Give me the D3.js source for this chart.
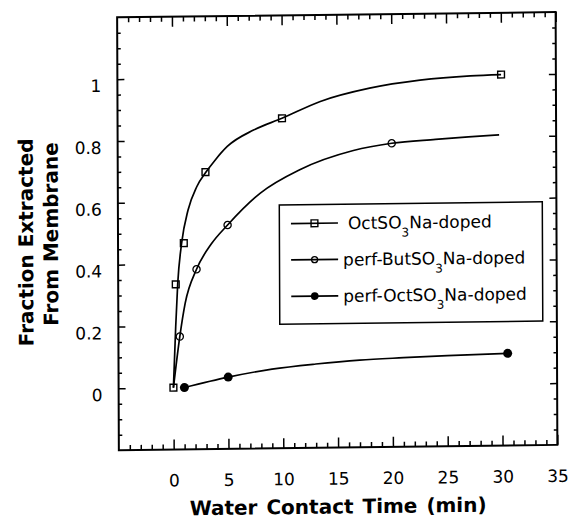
<!DOCTYPE html>
<html>
<head>
<meta charset="utf-8">
<script src="https://cdn.jsdelivr.net/npm/d3@7"></script>
<style>
    html, body { margin: 0; padding: 0; background: #fff; }
    #viz { width: 573px; height: 520px; }
    svg { display: block; font-family: "DejaVu Sans", sans-serif; }
</style>
</head>
<body>
<div id="viz"></div>
<script>
// measured points (markers)
const octTime = [0, 0.25, 1, 3, 10, 30];
const octFrac = [0, 0.334, 0.467, 0.696, 0.867, 1.0];
const butTime = [0.6, 2.15, 5, 20];
const butFrac = [0.165, 0.382, 0.524, 0.782];
const perfOctTime = [1, 5, 30.5];
const perfOctFrac = [0, 0.032, 0.098];

// fitted curves
const octFitTime = [0, 0.23, 0.43, 0.8, 1.4, 2.2, 3.05, 3.9, 5, 7.4, 10, 13.5, 18, 22.6, 27.2, 30];
const octFitFrac = [0, 0.197, 0.337, 0.467, 0.574, 0.649, 0.696, 0.735, 0.778, 0.83, 0.867, 0.92, 0.961, 0.985, 0.997, 1.0];
const butFitTime = [0, 0.6, 1.1, 2.15, 3.5, 5, 8, 11.6, 16.5, 20, 24, 27, 29.8];
const butFitFrac = [0, 0.165, 0.272, 0.382, 0.463, 0.524, 0.626, 0.70, 0.76, 0.782, 0.793, 0.80, 0.805];
const perfOctFitTime = [1, 5, 9, 13, 17, 21, 25, 30.5];
const perfOctFitFrac = [0, 0.032, 0.056, 0.071, 0.082, 0.088, 0.093, 0.098];

// axes
const xTicks = [0, 5, 10, 15, 20, 25, 30, 35];
const yTicks = [0, 0.2, 0.4, 0.6, 0.8, 1];
const yTickLabels = ["0", "0.2", "0.4", "0.6", "0.8", "1"];

// legend
const seriesNames = [
    ["OctSO", "3", "Na-doped"],
    ["perf-ButSO", "3", "Na-doped"],
    ["perf-OctSO", "3", "Na-doped"]
];
const seriesShapes = ["square", "circle", "dot"];

const zip = (xs, ys) => xs.map((x, i) => ({ x, y: ys[i] }));

function renderChart(d3) {
    const mount = document.getElementById("viz");
    d3.select(mount).select("svg").remove();

    const width = 573, height = 520;
    const left = 118, right = 556.5, top = 14.7, bottom = 447.5;

    const x = d3.scaleLinear().domain([-5, 35]).range([left, right]);
    const y = d3.scaleLinear().domain([-0.2, 1.2]).range([bottom, top]);

    const svg = d3.create("svg")
        .attr("width", width)
        .attr("height", height)
        .attr("viewBox", `0 0 ${width} ${height}`);

    // the scanned figure is slightly tilted, reproduce that
    const g = svg.append("g")
        .attr("transform", "matrix(1,-0.012,0.004,1,-0.928,4.056)");

    // minor tick values
    const xMinor = d3.range(-4, 35).filter(v => v % 5 !== 0);
    const yMinor = d3.range(-0.15, 1.2, 0.05)
        .map(v => +v.toFixed(2))
        .filter(v => Math.round(v * 100) % 20 !== 0);

    const tidy = sel => {
        sel.select(".domain").remove();
        sel.selectAll("line").attr("stroke", "#000").attr("stroke-width", 1.5);
    };

    // bottom axis with labels
    g.append("g")
        .attr("transform", `translate(0,${bottom})`)
        .call(d3.axisBottom(x).tickValues(xTicks).tickSizeInner(-10).tickSizeOuter(0)
            .tickPadding(25).tickFormat(d3.format("d")))
        .call(tidy)
        .call(s => s.selectAll("text").attr("font-size", 17).attr("fill", "#000")
            .attr("font-family", "DejaVu Sans, sans-serif"));
    g.append("g")
        .attr("transform", `translate(0,${bottom})`)
        .call(d3.axisBottom(x).tickValues(xMinor).tickSizeInner(-5).tickSizeOuter(0).tickFormat(""))
        .call(tidy);

    // top axis (ticks only)
    g.append("g")
        .attr("transform", `translate(0,${top})`)
        .call(d3.axisTop(x).tickValues(xTicks).tickSizeInner(-10).tickSizeOuter(0).tickFormat(""))
        .call(tidy);
    g.append("g")
        .attr("transform", `translate(0,${top})`)
        .call(d3.axisTop(x).tickValues(xMinor).tickSizeInner(-5).tickSizeOuter(0).tickFormat(""))
        .call(tidy);

    // left axis with labels
    g.append("g")
        .attr("transform", `translate(${left},0)`)
        .call(d3.axisLeft(y).tickValues(yTicks).tickSizeInner(-7).tickSizeOuter(0)
            .tickPadding(16).tickFormat((d, i) => yTickLabels[i]))
        .call(tidy)
        .call(s => s.selectAll("text").attr("font-size", 17).attr("fill", "#000")
            .attr("dy", "0.71em").attr("font-family", "DejaVu Sans, sans-serif"));
    g.append("g")
        .attr("transform", `translate(${left},0)`)
        .call(d3.axisLeft(y).tickValues(yMinor).tickSizeInner(-3.5).tickSizeOuter(0).tickFormat(""))
        .call(tidy);

    // right axis (ticks only)
    g.append("g")
        .attr("transform", `translate(${right},0)`)
        .call(d3.axisRight(y).tickValues(yTicks).tickSizeInner(-7).tickSizeOuter(0).tickFormat(""))
        .call(tidy);
    g.append("g")
        .attr("transform", `translate(${right},0)`)
        .call(d3.axisRight(y).tickValues(yMinor).tickSizeInner(-3.5).tickSizeOuter(0).tickFormat(""))
        .call(tidy);

    // frame
    g.append("rect")
        .attr("x", left).attr("y", top)
        .attr("width", right - left).attr("height", bottom - top)
        .attr("fill", "none").attr("stroke", "#000").attr("stroke-width", 2);

    // fitted curves
    const line = d3.line()
        .x(d => x(d.x))
        .y(d => y(d.y))
        .curve(d3.curveMonotoneX);

    const fits = [
        zip(octFitTime, octFitFrac),
        zip(butFitTime, butFitFrac),
        zip(perfOctFitTime, perfOctFitFrac)
    ];
    g.append("g")
        .selectAll("path")
        .data(fits)
        .join("path")
        .attr("d", line)
        .attr("fill", "none")
        .attr("stroke", "#000")
        .attr("stroke-width", 1.7);

    // markers
    function drawMarker(sel, shape) {
        if (shape === "square") {
            sel.append("rect")
                .attr("x", -3.4).attr("y", -3.4)
                .attr("width", 6.8).attr("height", 6.8)
                .attr("fill", "none").attr("stroke", "#000").attr("stroke-width", 1.4);
        } else if (shape === "circle") {
            sel.append("circle")
                .attr("r", 3.6)
                .attr("fill", "none").attr("stroke", "#000").attr("stroke-width", 1.3);
        } else {
            sel.append("circle")
                .attr("r", 4.5)
                .attr("fill", "#000");
        }
    }

    const points = [
        zip(octTime, octFrac),
        zip(butTime, butFrac),
        zip(perfOctTime, perfOctFrac)
    ];
    points.forEach((pts, i) => {
        g.append("g")
            .selectAll("g")
            .data(pts)
            .join("g")
            .attr("transform", d => `translate(${x(d.x)},${y(d.y)})`)
            .each(function () { drawMarker(d3.select(this), seriesShapes[i]); });
    });

    // legend
    const legend = g.append("g");
    legend.append("rect")
        .attr("x", 279.4).attr("y", 204.3)
        .attr("width", 263).attr("height", 119.2)
        .attr("fill", "#fff").attr("stroke", "#000").attr("stroke-width", 1.5);

    const rows = legend.selectAll("g.row")
        .data(seriesNames)
        .join("g")
        .attr("class", "row")
        .attr("transform", (d, i) => `translate(0,${223 + i * 36.4})`);

    rows.append("line")
        .attr("x1", 291).attr("x2", 338)
        .attr("stroke", "#000").attr("stroke-width", 1.7);
    rows.append("g")
        .attr("transform", "translate(314.5,0)")
        .each(function (d, i) {
            drawMarker(d3.select(this), seriesShapes[i]);
            if (seriesShapes[i] !== "square") {
                d3.select(this).select("circle").attr("r", seriesShapes[i] === "dot" ? 3.8 : 3);
            }
        });

    const label = rows.append("text")
        .attr("x", (d, i) => i === 0 ? 348 : 343)
        .attr("y", 6.2)
        .attr("font-size", 17)
        .attr("fill", "#000");
    label.append("tspan").text(d => d[0]);
    label.append("tspan").attr("dy", 8).attr("font-size", 12).text(d => d[1]);
    label.append("tspan").attr("dy", -8).text(d => d[2]);

    // axis titles
    g.append("text")
        .attr("x", 337).attr("y", 513.5)
        .attr("text-anchor", "middle")
        .attr("font-size", 20)
        .attr("font-weight", "bold")
        .attr("word-spacing", 2)
        .text("Water Contact Time (min)");

    g.append("text")
        .attr("transform", "translate(33,238.7) rotate(-90)")
        .attr("text-anchor", "middle")
        .attr("font-size", 20)
        .attr("font-weight", "bold")
        .text("Fraction Extracted");

    g.append("text")
        .attr("transform", "translate(58,230.7) rotate(-90)")
        .attr("text-anchor", "middle")
        .attr("font-size", 20)
        .attr("font-weight", "bold")
        .text("From Membrane");

    mount.appendChild(svg.node());
}

renderChart(d3);
</script>
</body>
</html>
